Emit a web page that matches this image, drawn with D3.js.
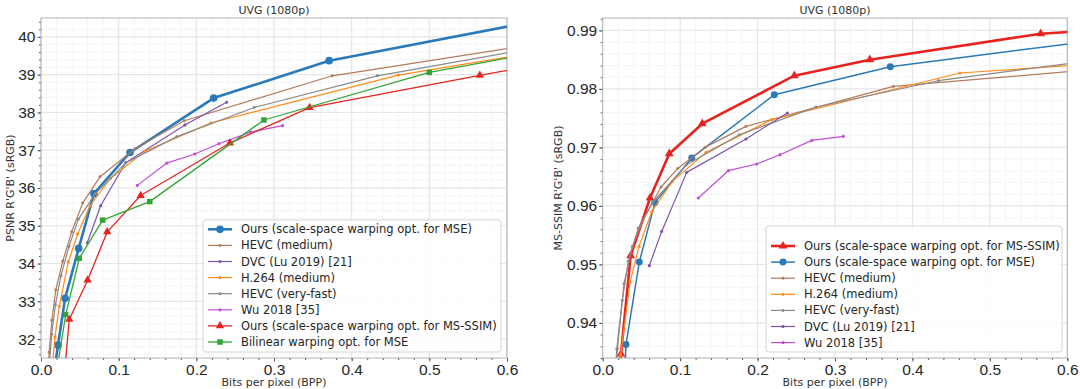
<!DOCTYPE html>
<html lang="en">
<head>
<meta charset="UTF-8">
<title>UVG (1080p)</title>
<script src="https://d3js.org/d3.v7.min.js"></script>
<style>
    body { margin: 0; background: #fff; }
    svg { display: block; font-family: "DejaVu Sans", sans-serif; }
    .grid-major line { stroke: #e2e2e2; stroke-width: 0.9px; }
    .grid-minor line { stroke: #f0f0f0; stroke-width: 0.7px; }
    .tick text { font-size: 15.5px; fill: #262626; }
    .tick line { stroke: #555; }
    .frame { fill: none; stroke: #b3b3b3; stroke-width: 1px; }
    .title, .xlabel, .ylabel { font-size: 11px; fill: #333; }
    .legend text { font-size: 11.5px; fill: #262626; }
</style>
</head>
<body>
<script>
// tick values
const bppTicks = [0, 0.1, 0.2, 0.3, 0.4, 0.5, 0.6];
const psnrTicks = [32, 33, 34, 35, 36, 37, 38, 39, 40];
const ssimTicks = [0.94, 0.95, 0.96, 0.97, 0.98, 0.99];

// PSNR panel, [bpp, psnr]
const psnrOursMse = [[0.016, 31.0], [0.0219, 31.84], [0.031, 33.08], [0.0485, 34.40], [0.0682, 35.85], [0.1146, 36.94], [0.2223, 38.38], [0.371, 39.37], [0.65, 40.47]];
const psnrHevcMedium = [[0.009, 31.0], [0.0105, 31.65], [0.014, 32.5], [0.019, 33.3], [0.028, 34.06], [0.0395, 34.84], [0.0537, 35.60], [0.076, 36.30], [0.121, 37.04], [0.1845, 37.78], [0.375, 38.97], [0.65, 39.85]];
const psnrDvc = [[0.0596, 34.55], [0.0768, 35.53], [0.109, 36.67], [0.1853, 37.67], [0.239, 38.27]];
const psnrH264 = [[0.0135, 31.0], [0.018, 32.06], [0.0236, 32.87], [0.0352, 34.05], [0.0472, 34.78], [0.063, 35.53], [0.0897, 36.26], [0.1338, 36.97], [0.2184, 37.72], [0.460, 38.99], [0.65, 39.63]];
const psnrHevcFast = [[0.0095, 31.0], [0.0138, 32.13], [0.0185, 32.9], [0.0257, 33.68], [0.036, 34.45], [0.048, 35.17], [0.07, 35.85], [0.109, 36.66], [0.175, 37.36], [0.2745, 38.13], [0.433, 38.97], [0.65, 39.76]];
const psnrWu = [[0.124, 36.07], [0.162, 36.66], [0.198, 36.90], [0.229, 37.17], [0.270, 37.48], [0.311, 37.65]];
const psnrOursSsim = [[0.0298, 31.0], [0.0364, 32.52], [0.060, 33.56], [0.0853, 34.84], [0.1283, 35.80], [0.2432, 37.19], [0.3458, 38.13], [0.565, 38.98], [0.65, 39.30]];
const psnrBilinear = [[0.019, 31.0], [0.0318, 32.65], [0.0493, 34.14], [0.0794, 35.15], [0.140, 35.64], [0.287, 37.80], [0.50, 39.06], [0.65, 39.63]];

// MS-SSIM panel, [bpp, ms-ssim]
const ssimOursSsim = [[0.021, 0.930], [0.0236, 0.93468], [0.0361, 0.95149], [0.0611, 0.96135], [0.086, 0.96892], [0.1286, 0.97405], [0.2475, 0.98226], [0.345, 0.98499], [0.5657, 0.98944], [0.65, 0.99015]];
const ssimOursMse = [[0.028, 0.930], [0.0301, 0.93632], [0.0473, 0.95041], [0.0675, 0.96060], [0.115, 0.96820], [0.2216, 0.97901], [0.3714, 0.98379], [0.65, 0.98853]];
const ssimHevcMedium = [[0.016, 0.930], [0.019, 0.93560], [0.0275, 0.94670], [0.0383, 0.95308], [0.052, 0.95750], [0.0753, 0.96323], [0.097, 0.96640], [0.132, 0.97000], [0.185, 0.97359], [0.3753, 0.98043], [0.65, 0.98350]];
const ssimH264 = [[0.020, 0.930], [0.0232, 0.93455], [0.0353, 0.94692], [0.0469, 0.95308], [0.0633, 0.95900], [0.0899, 0.96419], [0.1334, 0.96915], [0.2182, 0.97474], [0.4614, 0.98272], [0.65, 0.98442]];
const ssimHevcFast = [[0.0155, 0.930], [0.0181, 0.93554], [0.0253, 0.94385], [0.033, 0.95050], [0.046, 0.95620], [0.064, 0.96050], [0.108, 0.96700], [0.1764, 0.97217], [0.2755, 0.97691], [0.4334, 0.98140], [0.65, 0.98520]];
const ssimDvc = [[0.0602, 0.94978], [0.0762, 0.95564], [0.1085, 0.96573], [0.185, 0.97144], [0.2384, 0.97588]];
const ssimWu = [[0.1235, 0.96135], [0.1622, 0.96602], [0.1989, 0.96716], [0.229, 0.96875], [0.270, 0.97120], [0.3108, 0.97188]];

const svg = d3.select("body").append("svg")
    .attr("width", 1080)
    .attr("height", 389);

const C = {
    blue: "#2a7ab9", brown: "#b47a5c", purple: "#7d55ae", orange: "#ff8c1a",
    gray: "#8a8a8a", wu: "#bf4ddf", red: "#e8231f", green: "#33a534"
};

const panels = [
    {
        x0: 41, y0: 18, x1: 507, y1: 358,
        yDomain: [31.5, 40.5], yTicks: psnrTicks, yFmt: d3.format("d"), yMinorStep: 0.2,
        ylabel: "PSNR R'G'B' (sRGB)", ylabelX: 10,
        legend: { x: 203, y: 220, w: 298, h: 132, first: 229.3 },
        series: [
            { name: "Ours (scale-space warping opt. for MSE)", data: psnrOursMse, color: C.blue, lw: 2.6, marker: "circle", size: 46 },
            { name: "HEVC (medium)", data: psnrHevcMedium, color: C.brown, lw: 1.2, marker: "dot", size: 7 },
            { name: "DVC (Lu 2019) [21]", data: psnrDvc, color: C.purple, lw: 1.2, marker: "dot", size: 8 },
            { name: "H.264 (medium)", data: psnrH264, color: C.orange, lw: 1.2, marker: "dot", size: 8 },
            { name: "HEVC (very-fast)", data: psnrHevcFast, color: C.gray, lw: 1.2, marker: "dot", size: 7 },
            { name: "Wu 2018 [35]", data: psnrWu, color: C.wu, lw: 1.2, marker: "dot", size: 8 },
            { name: "Ours (scale-space warping opt. for MS-SSIM)", data: psnrOursSsim, color: C.red, lw: 1.3, marker: "triangle", size: 30 },
            { name: "Bilinear warping opt. for MSE", data: psnrBilinear, color: C.green, lw: 1.3, marker: "square", size: 30 }
        ]
    },
    {
        x0: 602.7, y0: 18, x1: 1067.3, y1: 358,
        yDomain: [0.934, 0.99212], yTicks: ssimTicks, yFmt: d3.format(".2f"), yMinorStep: 0.002,
        ylabel: "MS-SSIM R'G'B' (sRGB)", ylabelX: 558,
        legend: { x: 766, y: 226, w: 296, h: 126, first: 246 },
        series: [
            { name: "Ours (scale-space warping opt. for MS-SSIM)", data: ssimOursSsim, color: C.red, lw: 2.6, marker: "triangle", size: 34 },
            { name: "Ours (scale-space warping opt. for MSE)", data: ssimOursMse, color: C.blue, lw: 1.5, marker: "circle", size: 38 },
            { name: "HEVC (medium)", data: ssimHevcMedium, color: C.brown, lw: 1.2, marker: "dot", size: 7 },
            { name: "H.264 (medium)", data: ssimH264, color: C.orange, lw: 1.2, marker: "dot", size: 8 },
            { name: "HEVC (very-fast)", data: ssimHevcFast, color: C.gray, lw: 1.2, marker: "dot", size: 7 },
            { name: "DVC (Lu 2019) [21]", data: ssimDvc, color: C.purple, lw: 1.2, marker: "dot", size: 8 },
            { name: "Wu 2018 [35]", data: ssimWu, color: C.wu, lw: 1.2, marker: "dot", size: 8 }
        ]
    }
];

function symbolFor(marker) {
    if (marker === "triangle") return d3.symbolTriangle;
    if (marker === "square") return d3.symbolSquare;
    return d3.symbolCircle;
}

panels.forEach((p, pi) => {
    const x = d3.scaleLinear().domain([0, 0.6]).range([p.x0, p.x1]);
    const y = d3.scaleLinear().domain(p.yDomain).range([p.y1, p.y0]);

    const xMinor = d3.range(0, 0.6001, 0.02);
    const yMinor = d3.range(Math.ceil(p.yDomain[0] / p.yMinorStep) * p.yMinorStep, p.yDomain[1], p.yMinorStep);

    // grid
    svg.append("g").attr("class", "grid-minor")
        .selectAll("line.v").data(xMinor).join("line")
        .attr("x1", d => x(d)).attr("x2", d => x(d)).attr("y1", p.y0).attr("y2", p.y1);
    svg.append("g").attr("class", "grid-minor")
        .selectAll("line.h").data(yMinor).join("line")
        .attr("x1", p.x0).attr("x2", p.x1).attr("y1", d => y(d)).attr("y2", d => y(d));
    svg.append("g").attr("class", "grid-major")
        .selectAll("line").data(bppTicks).join("line")
        .attr("x1", d => x(d)).attr("x2", d => x(d)).attr("y1", p.y0).attr("y2", p.y1);
    svg.append("g").attr("class", "grid-major")
        .selectAll("line").data(p.yTicks).join("line")
        .attr("x1", p.x0).attr("x2", p.x1).attr("y1", d => y(d)).attr("y2", d => y(d));

    // axes
    const xAxis = svg.append("g")
        .attr("transform", `translate(0,${p.y1})`)
        .call(d3.axisBottom(x).tickValues(bppTicks).tickFormat(d3.format(".1f")).tickSize(3.5).tickPadding(2));
    xAxis.select(".domain").remove();
    svg.append("g")
        .attr("transform", `translate(0,${p.y1})`)
        .call(d3.axisBottom(x).tickValues(xMinor).tickFormat("").tickSize(2))
        .select(".domain").remove();

    const yAxis = svg.append("g")
        .attr("transform", `translate(${p.x0},0)`)
        .call(d3.axisLeft(y).tickValues(p.yTicks).tickFormat(p.yFmt).tickSize(3.5).tickPadding(2));
    yAxis.select(".domain").remove();
    svg.append("g")
        .attr("transform", `translate(${p.x0},0)`)
        .call(d3.axisLeft(y).tickValues(yMinor).tickFormat("").tickSize(2))
        .select(".domain").remove();

    svg.append("rect").attr("class", "frame")
        .attr("x", p.x0).attr("y", p.y0)
        .attr("width", p.x1 - p.x0).attr("height", p.y1 - p.y0);

    // titles
    const cx = (p.x0 + p.x1) / 2;
    svg.append("text").attr("class", "title")
        .attr("x", cx).attr("y", 14).attr("text-anchor", "middle")
        .text("UVG (1080p)");
    svg.append("text").attr("class", "xlabel")
        .attr("x", cx).attr("y", 386).attr("text-anchor", "middle")
        .text("Bits per pixel (BPP)");
    svg.append("text").attr("class", "ylabel")
        .attr("transform", `translate(${p.ylabelX},${(p.y0 + p.y1) / 2}) rotate(-90)`)
        .attr("text-anchor", "middle").attr("dy", "0.35em")
        .text(p.ylabel);

    // series
    svg.append("clipPath").attr("id", "clip" + pi)
        .append("rect")
        .attr("x", p.x0).attr("y", p.y0)
        .attr("width", p.x1 - p.x0).attr("height", p.y1 - p.y0);

    const plot = svg.append("g").attr("clip-path", `url(#clip${pi})`);
    const line = d3.line().x(d => x(d[0])).y(d => y(d[1]));

    p.series.forEach(s => {
        const g = plot.append("g");
        g.append("path")
            .attr("d", line(s.data))
            .attr("fill", "none")
            .attr("stroke", s.color)
            .attr("stroke-width", s.lw)
            .attr("stroke-linejoin", "round");
        g.selectAll("path.m").data(s.data).join("path")
            .attr("class", "m")
            .attr("transform", d => `translate(${x(d[0])},${y(d[1])})`)
            .attr("d", d3.symbol(symbolFor(s.marker), s.size))
            .attr("fill", s.color);
    });

    // legend
    const L = p.legend;
    const lg = svg.append("g").attr("class", "legend");
    lg.append("rect")
        .attr("x", L.x).attr("y", L.y).attr("width", L.w).attr("height", L.h)
        .attr("rx", 3)
        .attr("fill", "#fff").attr("fill-opacity", 0.85)
        .attr("stroke", "#d6d6d6");
    p.series.forEach((s, i) => {
        const ly = L.first + i * 16.1;
        lg.append("line")
            .attr("x1", L.x + 5).attr("x2", L.x + 29)
            .attr("y1", ly).attr("y2", ly)
            .attr("stroke", s.color).attr("stroke-width", s.lw);
        lg.append("path")
            .attr("transform", `translate(${L.x + 17},${ly})`)
            .attr("d", d3.symbol(symbolFor(s.marker), s.size))
            .attr("fill", s.color);
        lg.append("text")
            .attr("x", L.x + 38).attr("y", ly).attr("dy", "0.35em")
            .text(s.name);
    });
});
</script>
</body>
</html>
